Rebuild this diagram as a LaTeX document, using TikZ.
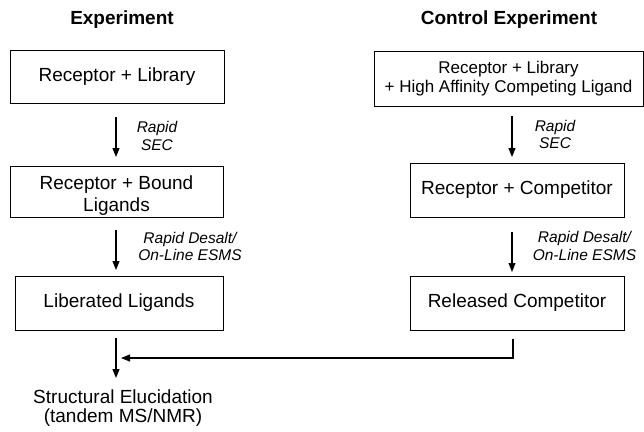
\documentclass[tikz,border=0pt]{standalone}
\usepackage{fontspec}
\setmainfont{Liberation Sans}
\usetikzlibrary{arrows.meta}
\begin{document}
\begin{tikzpicture}[x=1pt,y=-1pt,
  box/.style={draw,line width=1pt,inner sep=0pt,align=center,font=\fontsize{19}{22}\selectfont},
  title/.style={font=\fontsize{19}{22}\selectfont\bfseries},
  lbl/.style={align=center,font=\fontsize{15.5}{17.5}\selectfont\itshape},
  plain/.style={align=center,font=\fontsize{19}{19}\selectfont},
  arr/.style={line width=1.1pt,-{Triangle[length=9pt,width=7pt]}},
  ln/.style={line width=1.1pt}]
\useasboundingbox (0,0) rectangle (644,431);
% titles
\node[title] (t1) at (122,20) {Experiment};
\node[title] (t2) at (509,20) {Control Experiment};
% left column
\node[box,minimum width=214pt,minimum height=53pt] (L1) at (117,76.5) {Receptor + Library};
\node[box,minimum width=213pt,minimum height=51pt,align=none] (L2) at (116.5,191.5) {\raisebox{-5pt}[\height][\depth]{\begin{tabular}{@{}c@{}}Receptor + Bound\\Ligands\end{tabular}}};
\node[box,minimum width=208pt,minimum height=54pt] (L3) at (119,303) {Liberated Ligands};
\node[plain] (S) at (123,408) {Structural Elucidation\\(tandem MS/NMR)};
% right column
\node[box,minimum width=269pt,minimum height=55pt,font=\fontsize{17}{19.5}\selectfont] (R1) at (508.5,78.5) {Receptor + Library\\+ High Affinity Competing Ligand};
\node[box,minimum width=214pt,minimum height=54pt] (R2) at (517,190) {Receptor + Competitor};
\node[box,minimum width=214pt,minimum height=54pt] (R3) at (517,303) {Released Competitor};
% labels
\node[lbl] (a1) at (157,136) {Rapid\\SEC};
\node[lbl] (a2) at (190,246.5) {Rapid Desalt/\\On-Line ESMS};
\node[lbl] (b1) at (555,134.5) {Rapid\\SEC};
\node[lbl] (b2) at (584.5,246) {Rapid Desalt/\\On-Line ESMS};
% coordinates
\coordinate (p1a) at (116,117); \coordinate (p1b) at (116,157);
\coordinate (p2a) at (116,230); \coordinate (p2b) at (116,270);
\coordinate (p3a) at (116,338); \coordinate (p3b) at (116,378);
\coordinate (q1a) at (512,116); \coordinate (q1b) at (512,157);
\coordinate (q2a) at (512,232); \coordinate (q2b) at (512,272);
\coordinate (q3a) at (513,339); \coordinate (q3b) at (513,358);
\coordinate (q3c) at (121,358);
% arrows
\draw[arr] (p1a) -- (p1b);
\draw[arr] (p2a) -- (p2b);
\draw[arr] (p3a) -- (p3b);
\draw[arr] (q1a) -- (q1b);
\draw[arr] (q2a) -- (q2b);
\draw[arr] (q3a) -- (q3b) -- (q3c);
\end{tikzpicture}
\end{document}
